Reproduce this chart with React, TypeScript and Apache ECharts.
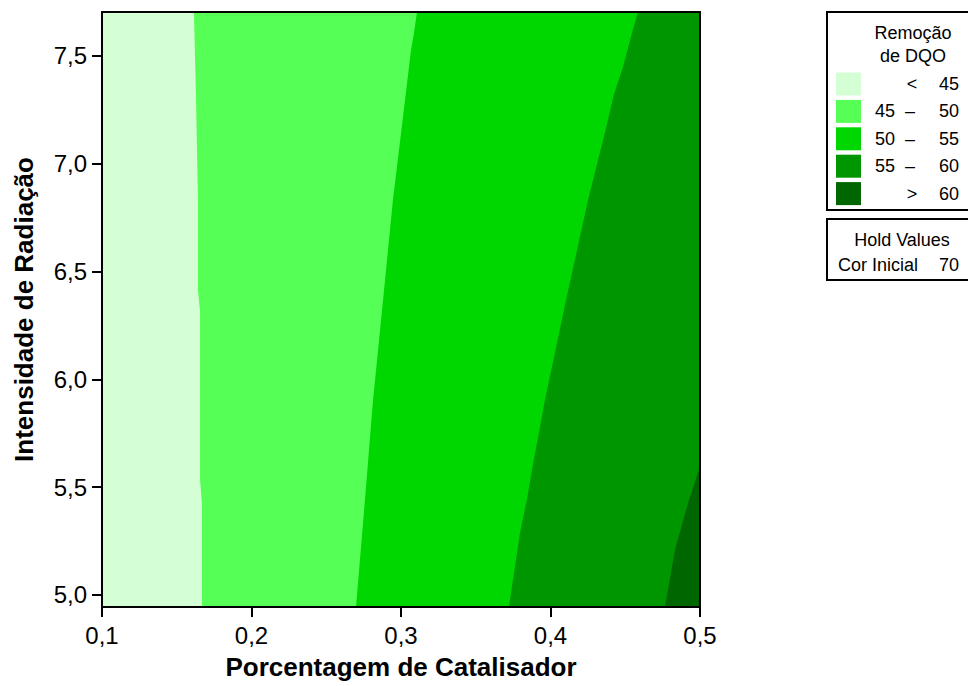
import React, { useEffect, useRef } from "react";
import * as echarts from "echarts";

// ---- data ----
const xRange = [0.1, 0.5];
const yRange = [4.944, 7.704];
const xTicks = [0.1, 0.2, 0.3, 0.4, 0.5];
const yTicks = [5.0, 5.5, 6.0, 6.5, 7.0, 7.5];

const levels = [45, 50, 55, 60];
const bandColors = ["#D4FFD4", "#55FF55", "#00D700", "#009600", "#006600"];

// contour boundaries [catalyst %, radiation] from top to bottom
const b45 = [
  [0.1615, 7.704], [0.1629, 7.296], [0.1642, 6.832], [0.1642, 6.415],
  [0.1656, 6.313], [0.1656, 5.533], [0.1669, 5.417], [0.1669, 4.944],
];
const b50 = [
  [0.3107, 7.704], [0.3087, 7.607], [0.3067, 7.528], [0.3027, 7.296],
  [0.2946, 6.832], [0.288, 6.368], [0.2813, 5.904], [0.2759, 5.441], [0.2699, 4.944],
];
const b55 = [
  [0.4585, 7.704], [0.4545, 7.607], [0.4485, 7.449], [0.4425, 7.324],
  [0.4365, 7.147], [0.4271, 6.888], [0.4251, 6.832], [0.4104, 6.368],
  [0.3963, 5.904], [0.3876, 5.58], [0.3843, 5.445], [0.3796, 5.288], [0.3722, 4.944],
];
const b60 = [
  [0.5, 5.594], [0.492, 5.427], [0.4833, 5.209], [0.4766, 4.944],
];
const boundaries = [b45, b50, b55, b60];

const legendTitle = ["Remoção", "de DQO"];
const holdTitle = "Hold Values";
const holdName = "Cor Inicial";
const holdValue = 70;

const FONT = "'Liberation Sans', Arial, sans-serif";

export default function App() {
  const ref = useRef<HTMLDivElement>(null);

  useEffect(() => {
    if (!ref.current) return;
    const chart = echarts.init(ref.current, null, { renderer: "svg" });

    const fmt = (v: number) => v.toFixed(1).replace(".", ",");

    const bandPolygon = (i: number): number[][] => {
      if (i === 0) {
        return [
          [xRange[0], yRange[1]], [xRange[1], yRange[1]],
          [xRange[1], yRange[0]], [xRange[0], yRange[0]],
        ];
      }
      const b = boundaries[i - 1];
      return [...b, [xRange[1], yRange[0]], [xRange[1], b[0][1]]];
    };

    // legend graphics
    const L = 827;
    const FS = 18;
    const graphic: any[] = [
      {
        type: "rect", shape: { x: L, y: 12, width: 170, height: 198 },
        style: { fill: "#fff", stroke: "#000", lineWidth: 2 },
      },
      {
        type: "text", x: 913, y: 33,
        style: { text: legendTitle[0], fontSize: FS, fontFamily: FONT, fill: "#000", align: "center", verticalAlign: "middle" },
      },
      {
        type: "text", x: 913, y: 56,
        style: { text: legendTitle[1], fontSize: FS, fontFamily: FONT, fill: "#000", align: "center", verticalAlign: "middle" },
      },
      {
        type: "rect", shape: { x: L, y: 219, width: 170, height: 61 },
        style: { fill: "#fff", stroke: "#000", lineWidth: 2 },
      },
      {
        type: "text", x: 902, y: 240,
        style: { text: holdTitle, fontSize: FS, fontFamily: FONT, fill: "#000", align: "center", verticalAlign: "middle" },
      },
      {
        type: "text", x: 838, y: 265,
        style: { text: holdName, fontSize: FS, fontFamily: FONT, fill: "#000", align: "left", verticalAlign: "middle" },
      },
      {
        type: "text", x: 959, y: 265,
        style: { text: String(holdValue), fontSize: FS, fontFamily: FONT, fill: "#000", align: "right", verticalAlign: "middle" },
      },
    ];
    bandColors.forEach((c, i) => {
      const cy = 84 + i * 27.4;
      graphic.push({
        type: "rect", shape: { x: 836, y: cy - 11.5, width: 25, height: 23 },
        style: { fill: c },
      });
      const ts = { fontSize: FS, fontFamily: FONT, fill: "#000", verticalAlign: "middle" };
      if (i === 0) {
        graphic.push({ type: "text", x: 912, y: cy, style: { ...ts, text: "<", align: "center" } });
        graphic.push({ type: "text", x: 959, y: cy, style: { ...ts, text: String(levels[0]), align: "right" } });
      } else if (i === bandColors.length - 1) {
        graphic.push({ type: "text", x: 912, y: cy, style: { ...ts, text: ">", align: "center" } });
        graphic.push({ type: "text", x: 959, y: cy, style: { ...ts, text: String(levels[levels.length - 1]), align: "right" } });
      } else {
        graphic.push({ type: "text", x: 875, y: cy, style: { ...ts, text: String(levels[i - 1]), align: "left" } });
        graphic.push({ type: "text", x: 910, y: cy, style: { ...ts, text: "–", align: "center" } });
        graphic.push({ type: "text", x: 959, y: cy, style: { ...ts, text: String(levels[i]), align: "right" } });
      }
    });

    const labelStyle = { fontSize: 24, fontFamily: FONT, color: "#000" };
    const nameStyle = { fontSize: 26, fontWeight: "bold", fontFamily: FONT, color: "#000" };

    chart.setOption({
      animation: false,
      backgroundColor: "#fff",
      grid: { left: 102, top: 12, right: 268, bottom: 79, containLabel: false, outerBoundsMode: "none" },
      xAxis: [
        {
          type: "value", min: xRange[0], max: xRange[1], z: 10,
          name: "Porcentagem de Catalisador", nameLocation: "middle", nameGap: 47,
          nameTextStyle: nameStyle,
          axisLine: { show: true, lineStyle: { color: "#000", width: 2 } },
          axisTick: { show: true, length: 10, customValues: xTicks, lineStyle: { color: "#000", width: 2 } },
          axisLabel: { customValues: xTicks, margin: 16, formatter: fmt, ...labelStyle },
          splitLine: { show: false },
        },
        {
          type: "value", min: xRange[0], max: xRange[1], position: "top", z: 10,
          axisLine: { show: true, onZero: false, lineStyle: { color: "#000", width: 2 } },
          axisTick: { show: false }, axisLabel: { show: false }, splitLine: { show: false },
        },
      ],
      yAxis: [
        {
          type: "value", min: yRange[0], max: yRange[1], z: 10,
          name: "Intensidade de Radiação", nameLocation: "middle", nameGap: 65,
          nameTextStyle: nameStyle,
          axisLine: { show: true, onZero: false, lineStyle: { color: "#000", width: 2 } },
          axisTick: { show: true, length: 10, customValues: yTicks, lineStyle: { color: "#000", width: 2 } },
          axisLabel: { customValues: yTicks, margin: 15, formatter: fmt, ...labelStyle },
          splitLine: { show: false },
        },
        {
          type: "value", min: yRange[0], max: yRange[1], position: "right", z: 10,
          axisLine: { show: true, onZero: false, lineStyle: { color: "#000", width: 2 } },
          axisTick: { show: false }, axisLabel: { show: false }, splitLine: { show: false },
        },
      ],
      series: [
        {
          type: "custom",
          coordinateSystem: "cartesian2d",
          xAxisIndex: 0,
          yAxisIndex: 0,
          clip: true,
          silent: true,
          data: bandColors.map((_, i) => [xRange[0], yRange[0], i]),
          renderItem: (params: any, api: any) => {
            const i = params.dataIndex;
            const pts = bandPolygon(i).map((p) => api.coord(p));
            return {
              type: "polygon",
              shape: { points: pts },
              style: { fill: bandColors[i], stroke: null },
            };
          },
        },
      ],
      graphic,
    });

    return () => chart.dispose();
  }, []);

  return (
    <div
      ref={ref}
      style={{ position: "fixed", left: 0, top: 0, width: 968, height: 686 }}
    />
  );
}
